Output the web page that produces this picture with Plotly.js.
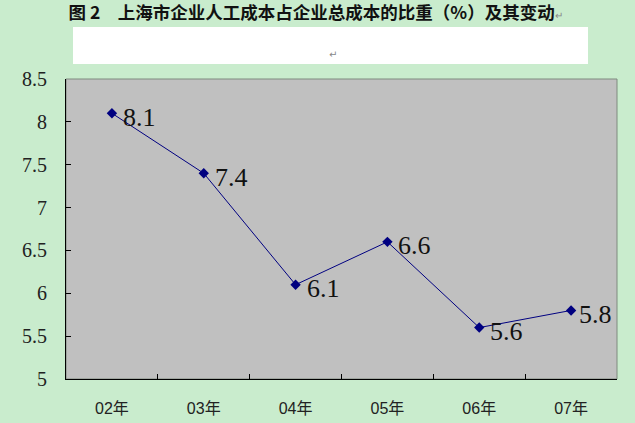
<!DOCTYPE html>
<html>
<head>
<meta charset="utf-8">
<script src="https://cdn.plot.ly/plotly-3.0.1.min.js"></script>
<style>
  html, body { margin: 0; padding: 0; background: #c9eccd; }
  #chart { width: 635px; height: 423px; }
</style>
</head>
<body>
<div id="chart"></div>
<script>
// 上海市企业人工成本占企业总成本的比重 (%)
const years = ['02年', '03年', '04年', '05年', '06年', '07年'];
const share = [8.1, 7.4, 6.1, 6.6, 5.6, 5.8];

const navy = '#000080';
const serif = 'Liberation Serif';

const line = {
    x: years,
    y: share,
    type: 'scatter',
    mode: 'lines+markers',
    line: { color: navy, width: 1 },
    marker: { symbol: 'diamond', size: 8, color: navy },
    hoverinfo: 'x+y'
};

// data labels right of each point, last one kept inside the plot area
const labels = share.map((v, i) => {
    const last = i === share.length - 1;
    return {
        x: last ? 1 : years[i],
        xref: last ? 'paper' : 'x',
        y: v,
        yref: 'y',
        text: v.toFixed(1),
        showarrow: false,
        xanchor: last ? 'right' : 'left',
        yanchor: 'middle',
        xshift: last ? -3 : 9,
        yshift: -4,
        font: { family: serif, size: 26, color: '#111' }
    };
});

const layout = {
    width: 635,
    height: 423,
    paper_bgcolor: '#c9eccd',
    plot_bgcolor: '#c0c0c0',
    margin: { l: 66, r: 18, t: 79, b: 44 },
    showlegend: false,
    title: {
        text: '图 2　上海市企业人工成本占企业总成本的比重（%）及其变动<span style="font-size:10px;color:#888;font-weight:normal">↵</span>',
        font: { family: 'Noto Sans CJK SC', size: 17.5, color: '#111', weight: 'bold' },
        x: 0.497,
        xanchor: 'center',
        y: 1 - 13 / 423,
        yanchor: 'middle'
    },
    xaxis: {
        type: 'category',
        range: [-0.5, 5.5],
        showline: true,
        linecolor: '#000',
        linewidth: 1,
        ticks: 'inside',
        tickson: 'boundaries',
        ticklen: 5,
        tickcolor: '#000',
        showgrid: false,
        zeroline: false,
        ticklabelstandoff: 15,
        tickfont: { family: 'Liberation Sans Narrow, Liberation Sans, Noto Sans CJK SC', size: 16, color: '#222' },
        fixedrange: true
    },
    yaxis: {
        range: [5, 8.5],
        dtick: 0.5,
        tick0: 5,
        showline: true,
        linecolor: '#000',
        linewidth: 1,
        ticks: 'inside',
        ticklen: 5,
        tickcolor: '#000',
        showgrid: false,
        zeroline: false,
        ticklabelstandoff: 14,
        tickfont: { family: serif, size: 20, color: '#222' },
        fixedrange: true
    },
    shapes: [
        // plot area border
        {
            type: 'rect', xref: 'paper', yref: 'paper',
            x0: 0, x1: 1, y0: 0, y1: 1,
            line: { color: '#7f8a7f', width: 1 },
            layer: 'below'
        },
        // white text box under the title
        {
            type: 'rect', xref: 'paper', yref: 'paper',
            x0: (73 - 66) / 551, x1: (588 - 66) / 551,
            y0: (379 - 64) / 300, y1: (379 - 27) / 300,
            fillcolor: '#ffffff',
            line: { width: 0 }
        }
    ],
    annotations: labels.concat([
        {
            x: (333 - 66) / 551, xref: 'paper',
            y: (379 - 47) / 300, yref: 'paper',
            text: '↵',
            showarrow: false,
            font: { family: 'DejaVu Sans', size: 10, color: '#888' }
        }
    ])
};

Plotly.newPlot('chart', [line], layout, { displayModeBar: false, staticPlot: true });
</script>
</body>
</html>
